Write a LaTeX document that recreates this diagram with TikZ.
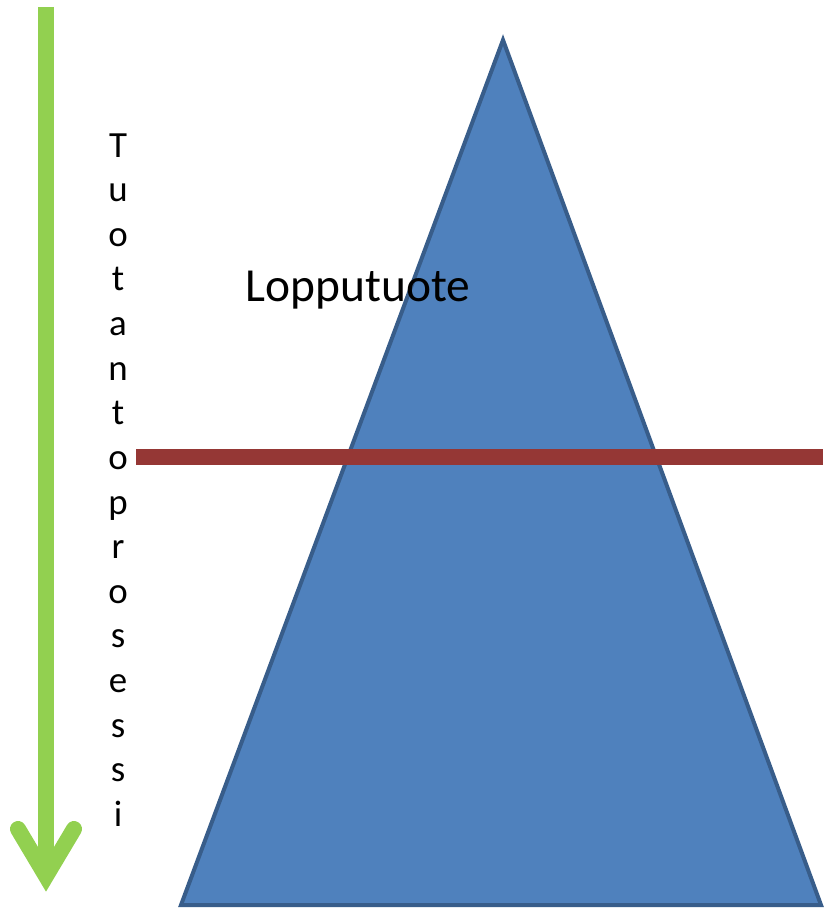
\documentclass[tikz,border=0pt]{standalone}
\usepackage{fontspec}
\setmainfont{Carlito}
\usetikzlibrary{arrows.meta, positioning}
\definecolor{pyramidBlue}{HTML}{4F81BD}
\definecolor{pyramidEdge}{HTML}{385D8A}
\definecolor{cutRed}{HTML}{953735}
\definecolor{flowGreen}{HTML}{92D050}

\begin{document}
\begin{tikzpicture}[
    x=0.02cm, y=-0.02cm,
    pyramid/.style={draw=pyramidEdge, fill=pyramidBlue, line width=0.08cm,
                    line join=miter},
    flow/.style={draw=flowGreen, line width=0.32cm},
    cutline/.style={draw=cutRed, line width=0.32cm},
    title/.style={inner sep=0pt, font=\fontsize{27}{32}\selectfont},
    letters/.style={inner sep=0pt, align=center,
                    font=\fontsize{21}{25.4}\selectfont},
  ]
    \useasboundingbox (0,0) rectangle (823,908);

    \coordinate (apex) at (503,40);
    \coordinate (baseL) at (181,905);
    \coordinate (baseR) at (821,905);
    \draw[pyramid] (apex) -- (baseR) -- (baseL) -- cycle;

    \coordinate (cutL) at (136,457);
    \coordinate (cutR) at (823,457);
    \draw[cutline] (cutL) -- (cutR);

    \node[title, anchor=base] (product) at (358,302) {Lopputuote};

    \coordinate (flowTop) at (46,7);
    \coordinate (flowTip) at (46,876);
    \draw[flow] (flowTop) -- (flowTip);
    \draw[flow, line cap=round, line join=miter]
      (flowTip) +(-28,-47) -- (flowTip) -- +(28,-47);

    \node[letters, anchor=north] (process) at (118,133)
      {T\\u\\o\\t\\a\\n\\t\\o\\p\\r\\o\\s\\e\\s\\s\\i};
  \end{tikzpicture}
\end{document}
